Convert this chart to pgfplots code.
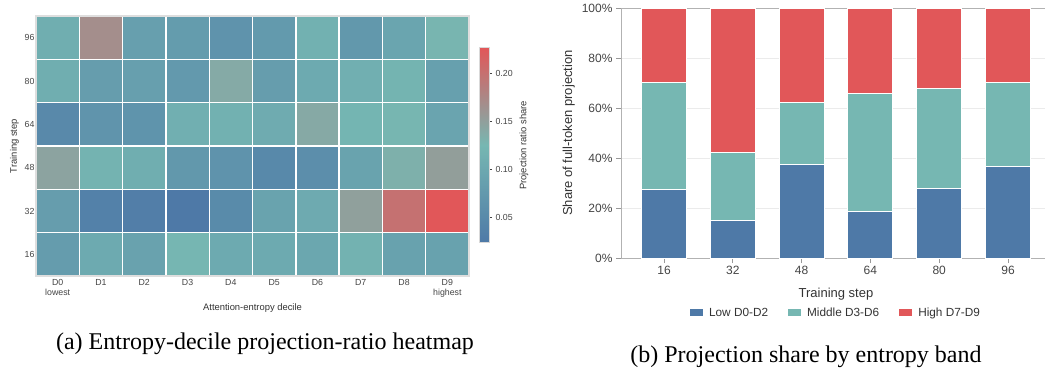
\documentclass[border=0pt]{standalone}
\usepackage{pgfplots}
\pgfplotsset{compat=1.18}
\usepackage{fontspec}
\setmainfont{Liberation Sans}
\newfontfamily\capfont{Liberation Serif}

\definecolor{tblue}{HTML}{4E79A7}
\definecolor{tteal}{HTML}{76B7B2}
\definecolor{tred}{HTML}{E15759}
\definecolor{txt}{HTML}{444444}
\definecolor{lab}{HTML}{333333}

\pgfplotsset{/pgf/number format/assume math mode=true}

% per-decile projection share (rows: training step, columns: decile)
\pgfplotstableread{
x y c
0 0 0.081
1 0 0.103
2 0 0.091
3 0 0.124
4 0 0.103
5 0 0.103
6 0 0.098
7 0 0.117
8 0 0.090
9 0 0.090
0 1 0.083
1 1 0.037
2 1 0.032
3 1 0.023
4 1 0.052
5 1 0.092
6 1 0.104
7 1 0.150
8 1 0.200
9 1 0.227
0 2 0.146
1 2 0.119
2 2 0.111
3 2 0.074
4 2 0.066
5 2 0.049
6 2 0.058
7 2 0.092
8 2 0.133
9 2 0.152
0 3 0.050
1 3 0.068
2 3 0.067
3 3 0.112
4 3 0.116
5 3 0.106
6 3 0.140
7 3 0.121
8 3 0.126
9 3 0.094
0 4 0.110
1 4 0.083
2 4 0.086
3 4 0.076
4 4 0.139
5 4 0.083
6 4 0.103
7 4 0.112
8 4 0.120
9 4 0.088
0 5 0.110
1 5 0.169
2 5 0.086
3 5 0.080
4 5 0.066
5 5 0.077
6 5 0.116
7 5 0.074
8 5 0.095
9 5 0.127
}\heatdata

% share of full-token projection per entropy band (percent)
\pgfplotstableread{
x low mid high
0 27.5 42.8 29.7
1 15.2 27.1 57.7
2 37.6 24.7 37.7
3 18.5 47.4 34.1
4 27.9 40.1 32.0
5 36.5 33.9 29.6
}\banddata

\begin{document}
\begin{tikzpicture}
\useasboundingbox (0pt,0pt) rectangle (1045pt,-370pt);

% ---------------- heatmap ----------------
\begin{axis}[
  at={(36pt,-276pt)}, anchor=south west,
  scale only axis, width=433pt, height=260pt,
  xmin=-0.5, xmax=9.5, ymin=-0.5, ymax=5.5,
  enlargelimits=false,
  axis on top,
  xtick={0,...,9}, ytick={0,...,5},
  xticklabels={{D0\\lowest},D1,D2,D3,D4,D5,D6,D7,D8,{D9\\highest}},
  yticklabels={16,32,48,64,80,96},
  tick label style={font=\fontsize{8.8}{9.6}\selectfont, text=txt},
  xticklabel style={align=center},
  yticklabel style={xshift=2pt},
  major tick length=0pt,
  minor xtick={0.5,1.5,...,8.5}, minor ytick={0.5,1.5,...,4.5},
  minor tick length=0pt,
  xminorgrids, yminorgrids,
  minor grid style={white, line width=1.4pt},
  axis line style={black!13, line width=1.4pt},
  xlabel={Attention-entropy decile},
  ylabel={Training step},
  label style={font=\fontsize{9.4}{11}\selectfont, text=lab},
  xlabel style={yshift=0pt},
  ylabel style={yshift=-1pt},
  colormap={tabdiv}{rgb255(0cm)=(78,121,167); rgb255(1cm)=(118,183,178); rgb255(2cm)=(225,87,89)},
  point meta min=0.023, point meta max=0.227,
  colorbar,
  colorbar style={
    at={(1.0231,0.877)}, anchor=north west,
    scale only axis, width=10pt, height=195pt,
    ytick={0.05,0.10,0.15,0.20},
    yticklabel style={/pgf/number format/fixed, /pgf/number format/precision=2,
      /pgf/number format/fixed zerofill, font=\fontsize{8.8}{9.6}\selectfont, text=txt},
    ytick pos=right, tick align=outside, major tick length=3pt,
    tick style={txt, line width=0.6pt},
    axis line style={black!15, line width=1pt},
    ylabel={Projection ratio share},
    ylabel style={font=\fontsize{9.4}{11}\selectfont, text=lab},
  },
]
\addplot[matrix plot*, mesh/cols=10, mesh/rows=6, point meta=explicit]
  table[x=x, y=y, meta=c] {\heatdata};
\end{axis}

% ---------------- stacked bars ----------------
\begin{axis}[
  at={(621pt,-258pt)}, anchor=south west,
  scale only axis, width=430pt, height=250pt,
  ybar stacked, bar width=0.654,
  xmin=-0.625, xmax=5.625, ymin=0, ymax=100,
  enlargelimits=false,
  xtick={0,...,5}, xticklabels={16,32,48,64,80,96},
  ytick={0,20,...,100}, yticklabels={0\%,20\%,40\%,60\%,80\%,100\%},
  tick pos=left, tick align=outside, major tick length=5pt,
  tick style={black!40, line width=0.8pt},
  tick label style={font=\fontsize{12}{14}\selectfont, text=txt},
  ymajorgrids, grid style={black!8, line width=0.8pt},
  axis line style={black!30, line width=0.9pt},
  xlabel={Training step}, ylabel={Share of full-token projection},
  label style={font=\fontsize{13}{15}\selectfont, text=lab},
  xlabel style={yshift=-6pt},
  legend style={at={(0.5,-0.219)}, anchor=center, draw=none, fill=none,
    legend columns=3, font=\fontsize{11.8}{13}\selectfont, text=lab,
    /tikz/every odd column/.append style={column sep=4pt},
    /tikz/every even column/.append style={column sep=18pt}},
  legend image code/.code={\fill[#1, draw=none] (0pt,-3.5pt) rectangle (13pt,3.5pt);},
]
\addplot[fill=tblue, draw=white, line width=1pt] table[x=x, y=low] {\banddata};
\addlegendentry{Low D0-D2}
\addplot[fill=tteal, draw=white, line width=1pt] table[x=x, y=mid] {\banddata};
\addlegendentry{Middle D3-D6}
\addplot[fill=tred, draw=white, line width=1pt] table[x=x, y=high] {\banddata};
\addlegendentry{High D7-D9}
\end{axis}

% ---------------- sub-captions ----------------
\node[font=\capfont\fontsize{24}{28}\selectfont, text=black] at (265pt,-344pt)
  {(a) Entropy-decile projection-ratio heatmap};
\node[font=\capfont\fontsize{24}{28}\selectfont, text=black] at (806pt,-357pt)
  {(b) Projection share by entropy band};
\end{tikzpicture}
\end{document}
